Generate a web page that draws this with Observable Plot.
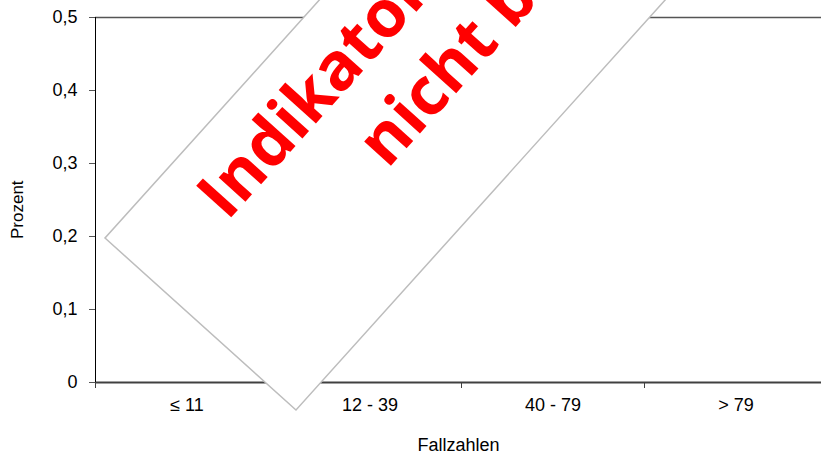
<!DOCTYPE html>
<html><head><meta charset="utf-8">
<script src="https://cdn.jsdelivr.net/npm/d3@7"></script>
<script src="https://cdn.jsdelivr.net/npm/@observablehq/plot@0.6"></script>
<style>html,body{margin:0;padding:0;background:#fff;}</style>
</head><body><div id="chart"></div>
<script>
// Data (indicator not computed -> no values drawn)
const categories = ["≤ 11", "12 - 39", "40 - 79", "> 79"];
const values = [null, null, null, null];
const yTicks = [0, 0.1, 0.2, 0.3, 0.4, 0.5];
const xLabel = "Fallzahlen";
const yLabel = "Prozent";
const stampLines = ["Indikator", "nicht berechenbar"];

const fmtY = d => d === 0 ? "0" : d.toFixed(1).replace(".", ",");
const bounds = d3.range(categories.length + 1);
const centers = categories.map((c, i) => i + 0.5);

// Watermark stamp drawn on top of the chart
function stamp() {
  const g = d3.create("svg:g").attr("transform", "translate(105,238) rotate(-48)");
  g.append("rect").attr("x", 0).attr("y", 0).attr("width", 800).attr("height", 257)
    .attr("fill", "white").attr("stroke", "#bdbdbd").attr("stroke-width", 1.5);
  const pos = [[94, 80], [240, 164]];
  stampLines.forEach((t, i) => {
    g.append("text").attr("x", pos[i][0]).attr("y", pos[i][1])
      .attr("text-anchor", "start")
      .attr("fill", "#ff0000").attr("font-family", "'Open Sans', sans-serif")
      .attr("font-weight", 700).attr("font-size", 66).text(t);
  });
  return g.node();
}

const barData = categories.map((c, i) => ({i, v: values[i]})).filter(d => d.v != null);

const chart = Plot.plot({
  width: 821,
  height: 455,
  marginLeft: 95,
  marginTop: 17,
  marginBottom: 73,
  marginRight: 0,
  style: {fontFamily: "'Liberation Sans', Arial, sans-serif", fontSize: "18px", background: "white", color: "black"},
  x: {type: "linear", domain: [0, categories.length], range: [95, 827]},
  y: {type: "linear", domain: [0, 0.5], range: [382, 17]},
  marks: [
    Plot.ruleY([0.5], {stroke: "#555", strokeWidth: 1.3}),
    Plot.ruleY([0], {stroke: "#404040", strokeWidth: 2}),
    Plot.ruleX([0], {stroke: "black", strokeWidth: 1}),
    Plot.axisY({ticks: yTicks, tickFormat: fmtY, tickSize: 6, tickPadding: 12, stroke: "#555", label: null, fontSize: 18}),
    Plot.axisX({ticks: bounds, tickFormat: () => "", tickSize: 6, stroke: "#404040", label: null}),
    Plot.axisX({ticks: centers, tickFormat: d => categories[Math.round(d - 0.5)], tickSize: 0, tickPadding: 16, label: null, fontSize: 18}),
    Plot.rectY(barData, {x1: "i", x2: d => d.i + 1, y: "v", fill: "#4a7ebb"}),
    Plot.text([xLabel], {frameAnchor: "bottom", dy: 63, fontSize: 18, lineAnchor: "middle"}),
    Plot.text([yLabel], {frameAnchor: "left", dx: -78, dy: 39, rotate: -90, fontSize: 17, lineAnchor: "middle"}),
    stamp
  ]
});
document.getElementById("chart").appendChild(chart);
</script>
</body></html>
